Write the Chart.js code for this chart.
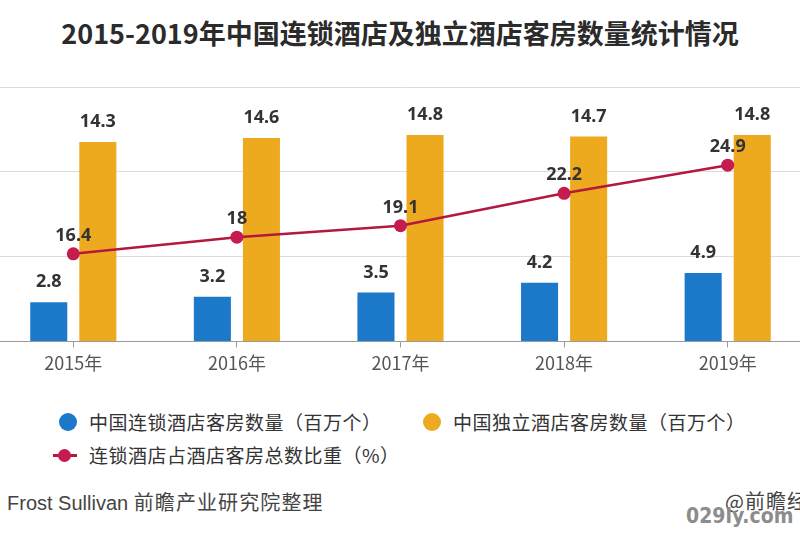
<!DOCTYPE html>
<html><head><meta charset="utf-8">
<script src="https://cdn.jsdelivr.net/npm/chart.js@4.4.0/dist/chart.umd.min.js"></script>
<style>
html,body{margin:0;padding:0;width:800px;height:535px;overflow:hidden;background:#fff;font-family:"Noto Sans CJK SC","Noto Sans",sans-serif;}
#title{position:absolute;left:0;top:13px;width:800px;text-align:center;font-size:27px;font-weight:bold;color:#2b2b2b;line-height:40px;}
#wrap{position:absolute;left:-15px;top:0;width:831px;height:379px;}
#legend{position:absolute;left:0;top:400px;width:800px;}
.li{position:absolute;font-size:19px;letter-spacing:0.5px;color:#333;white-space:nowrap;line-height:24px;}
.mk{position:absolute;}
#src{position:absolute;left:7px;top:490px;font-size:20px;color:#444;white-space:nowrap;line-height:24px;}
#src .en{font-family:"Liberation Sans",Arial,sans-serif;}
#src .zh{font-size:20px;letter-spacing:1.1px;}
#src2{position:absolute;left:725px;top:489px;font-size:20px;letter-spacing:1px;color:#444;white-space:nowrap;line-height:24px;}
#wm{position:absolute;left:686px;top:503px;font-family:"DejaVu Sans Condensed","DejaVu Sans",sans-serif;font-weight:bold;font-size:21px;color:#8c8c8c;white-space:nowrap;line-height:26px;}
</style></head><body>
<div id="title">2015-2019年中国连锁酒店及独立酒店客房数量统计情况</div>
<div id="wrap"><canvas id="c"></canvas></div>
<div id="legend"></div>
<div id="src"><span class="en">Frost Sullivan </span><span class="zh">前瞻产业研究院整理</span></div>
<div id="src2">@前瞻经济学人</div>
<div id="wm">029ly.com</div>
<script>
const categories = ["2015年","2016年","2017年","2018年","2019年"];
const chainRooms = [2.8, 3.2, 3.5, 4.2, 4.9];
const independentRooms = [14.3, 14.6, 14.8, 14.7, 14.8];
const chainShare = [16.4, 18, 19.1, 22.2, 24.9];
const seriesNames = ["中国连锁酒店客房数量（百万个）","中国独立酒店客房数量（百万个）","连锁酒店占酒店客房总数比重（%）"];

const BLUE = "#1c78c9", ORANGE = "#eeaa1f", RED = "#b3183f", REDPT = "#c51b4f";

const labelPlugin = {
  id: "valLabels",
  afterDatasetsDraw(chart) {
    const ctx = chart.ctx;
    ctx.save();
    ctx.font = "bold 18px 'Noto Sans', sans-serif";
    ctx.fillStyle = "#333";
    ctx.textAlign = "center";
    ctx.textBaseline = "middle";
    chart.data.datasets.forEach((ds, i) => {
      const meta = chart.getDatasetMeta(i);
      meta.data.forEach((el, j) => {
        const v = ds.data[j];
        const off = ds.type === "line" ? 18 : 20;
        ctx.fillText(String(v), el.x, el.y - off);
      });
    });
    ctx.restore();
  }
};

const chart = new Chart(document.getElementById("c"), {
  data: {
    labels: categories,
    datasets: [
      { type: "line", label: seriesNames[2], data: chainShare, yAxisID: "y2", order: 0,
        borderColor: RED, borderWidth: 2.5, pointRadius: 6.5, pointBackgroundColor: REDPT,
        pointBorderColor: REDPT, pointBorderWidth: 0, tension: 0, fill: false },
      { type: "bar", label: seriesNames[0], data: chainRooms, yAxisID: "y", order: 1,
        backgroundColor: BLUE, categoryPercentage: 0.6, barPercentage: 0.755 },
      { type: "bar", label: seriesNames[1], data: independentRooms, yAxisID: "y", order: 1,
        backgroundColor: ORANGE, categoryPercentage: 0.6, barPercentage: 0.755 }
    ]
  },
  options: {
    responsive: true, maintainAspectRatio: false, animation: false,
    layout: { padding: { top: 87, left: 0, right: 0, bottom: 0 } },
    plugins: { legend: { display: false }, tooltip: { enabled: false } },
    scales: {
      x: {
        offset: true,
        grid: { offset: false, drawOnChartArea: false, drawTicks: true, tickLength: 6, color: "#9a9a9a" },
        border: { display: true, color: "#9a9a9a", width: 1 },
        ticks: { color: "#555", font: { size: 18, family: "'Noto Sans CJK SC', sans-serif" }, padding: 5 }
      },
      y: {
        position: "left", min: 0, max: 18.25,
        afterBuildTicks: (ax) => { ax.ticks = [0, 6.0833, 12.1667, 18.25].map(v => ({ value: v })); },
        grid: { color: "#dcdcdc", drawTicks: false, lineWidth: 1 },
        border: { display: false },
        ticks: { display: false }
      },
      y2: {
        position: "right", min: 8, max: 32.4,
        grid: { display: false, drawTicks: false },
        border: { display: false },
        ticks: { display: false }
      }
    }
  },
  plugins: [labelPlugin]
});

// HTML legend built from datasets
const leg = document.getElementById("legend");
const items = [
  { ds: chart.data.datasets[1], x: 89, cx: 68, y: 10, kind: "circle" },
  { ds: chart.data.datasets[2], x: 453, cx: 432, y: 10, kind: "circle" },
  { ds: chart.data.datasets[0], x: 89, cx: 65, y: 43, kind: "line" }
];
items.forEach(it => {
  const t = document.createElement("div");
  t.className = "li"; t.style.left = it.x + "px"; t.style.top = it.y + "px";
  t.textContent = it.ds.label; leg.appendChild(t);
  const m = document.createElement("div"); m.className = "mk";
  if (it.kind === "circle") {
    Object.assign(m.style, { left: (it.cx - 9) + "px", top: (it.y + 3) + "px", width: "18px", height: "18px",
      borderRadius: "50%", background: it.ds.backgroundColor });
  } else {
    Object.assign(m.style, { left: (it.cx - 12) + "px", top: (it.y + 11) + "px", width: "24px", height: "3px", background: it.ds.borderColor });
    const d = document.createElement("div");
    Object.assign(d.style, { position: "absolute", left: "5px", top: "-5px", width: "13px", height: "13px", borderRadius: "50%", background: it.ds.pointBackgroundColor });
    m.appendChild(d);
  }
  leg.appendChild(m);
});
</script>
</body></html>
